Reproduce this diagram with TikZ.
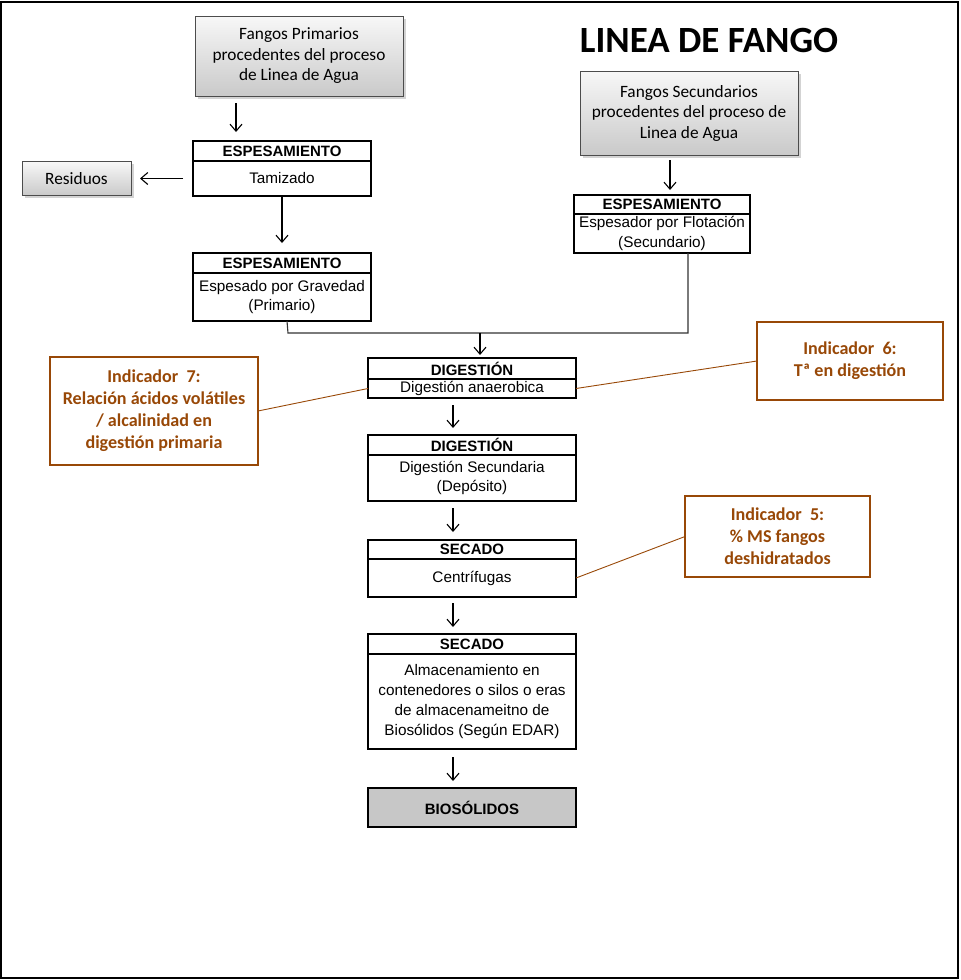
\documentclass[tikz,border=0pt]{standalone}
\usepackage{fontspec}
\setmainfont{Liberation Sans}
\newfontfamily\calfont{Carlito}
\usetikzlibrary{arrows.meta,shadows}
\definecolor{indbrown}{HTML}{984807}
\begin{document}
\begin{tikzpicture}[x=1pt,y=-1pt,
  every node/.style={inner sep=0pt, outer sep=0pt},
  hdr/.style={draw, line width=1.8pt, anchor=north west, align=center,
    font=\fontsize{15}{17}\selectfont\bfseries},
  body/.style={draw, line width=1.8pt, anchor=north west, align=center,
    font=\fontsize{15.3}{19.7}\selectfont},
  src/.style={draw=black!70, line width=0.8pt, anchor=north west, align=center,
    top color=gray!6, bottom color=gray!42,
    drop shadow={shadow xshift=2.5pt, shadow yshift=-2.5pt, opacity=0.35},
    font=\calfont\fontsize{17.3}{20.5}\selectfont},
  ind/.style={draw=indbrown, line width=2.6pt, anchor=north west, align=center,
    text=indbrown, font=\calfont\bfseries\fontsize{18.1}{22}\selectfont},
  flow/.style={line width=1.1pt, -{Straight Barb[length=7pt,width=12pt]}},
  link/.style={line width=0.9pt, draw=indbrown},
]
\useasboundingbox (0,0) rectangle (961,980);
% outer frame
\draw[line width=2pt] (1,1.5) rectangle (957.5,978);

% title
\node[font=\calfont\bfseries\fontsize{37}{42}\selectfont] (title) at (709,40) {LINEA DE FANGO};

% sludge sources
\node[src, minimum width=208pt, minimum height=80pt] (pri) at (195,16)
  {Fangos Primarios\\procedentes del proceso\\de Linea de Agua};
\node[src, minimum width=218pt, minimum height=84pt] (sec) at (580,71)
  {Fangos Secundarios\\procedentes del proceso de\\Linea de Agua};
\node[src, minimum width=109pt, minimum height=34pt] (res) at (22,161.5) {Residuos};

% primary thickening: screening
\node[hdr, minimum width=178pt, minimum height=20pt] (tamH) at (193,141) {ESPESAMIENTO};
\node[body, minimum width=178pt, minimum height=35pt] (tamB) at (193,161) {Tamizado};

% primary thickening: gravity
\node[hdr, minimum width=178pt, minimum height=20pt] (gravH) at (193,253) {ESPESAMIENTO};
\node[body, minimum width=178pt, minimum height=48pt] (gravB) at (193,273)
  {Espesado por Gravedad\\(Primario)};

% secondary thickening: flotation
\node[hdr, minimum width=176pt, minimum height=19pt] (flotH) at (574,195) {ESPESAMIENTO};
\node[body, minimum width=176pt, minimum height=39pt] (flotB) at (574,214)
  {Espesador por Flotación\\(Secundario)};

% digestion
\node[hdr, minimum width=208pt, minimum height=21pt] (digH) at (368,358) {DIGESTIÓN};
\node[body, minimum width=208pt, minimum height=19pt] (digB) at (368,379) {Digestión anaerobica};

\node[hdr, minimum width=208pt, minimum height=20pt] (dsH) at (368,435) {DIGESTIÓN};
\node[body, minimum width=208pt, minimum height=46pt] (dsB) at (368,455)
  {Digestión Secundaria\\(Depósito)};

% drying
\node[hdr, minimum width=208pt, minimum height=19pt] (cenH) at (368,540) {SECADO};
\node[body, minimum width=208pt, minimum height=38pt] (cenB) at (368,559) {Centrífugas};

\node[hdr, minimum width=208pt, minimum height=20pt] (almH) at (368,634) {SECADO};
\node[body, minimum width=208pt, minimum height=95pt] (almB) at (368,654)
  {Almacenamiento en\\contenedores o silos o eras\\de almacenameitno de\\Biosólidos (Según EDAR)};

% final product
\node[hdr, fill=black!22, minimum width=208pt, minimum height=39pt] (bio) at (368,788) {BIOSÓLIDOS};

% indicators
\node[ind, minimum width=208pt, minimum height=108pt] (ind7) at (50,357)
  {Indicador\ \ 7:\\Relación ácidos volátiles\\/ alcalinidad en\\digestión primaria};
\node[ind, minimum width=186pt, minimum height=78pt] (ind6) at (757,322)
  {Indicador\ \ 6:\\Tª en digestión};
\node[ind, minimum width=185pt, minimum height=81pt] (ind5) at (685,496)
  {Indicador\ \ 5:\\\% MS fangos\\deshidratados};

% flow connectors
\draw[flow] ([xshift=-63pt,yshift=-7pt]pri.south) -- ([xshift=-46pt,yshift=9pt]tamH.north);
\draw[flow] ([xshift=-10pt]tamB.west) -- ([xshift=9pt]res.east);
\draw[flow] (tamB.south) -- ([yshift=10pt]gravH.north);
\draw[flow] ([xshift=-19pt,yshift=-5pt]sec.south) -- ([xshift=8pt,yshift=5pt]flotH.north);

\coordinate (jl) at (288,333);
\coordinate (jr) at (688,333);
\coordinate (jm) at (480,333);
\draw[line width=1.1pt, black!80] ([xshift=5pt]gravB.south) -- (jl) -- (jr) -- ([xshift=26pt]flotB.south);
\draw[flow] (jm) -- ([xshift=8pt,yshift=3pt]digH.north);

\draw[flow] ([xshift=-19pt,yshift=-7pt]digB.south) -- ([xshift=-19pt,yshift=7pt]dsH.north);
\draw[flow] ([xshift=-19pt,yshift=-7pt]dsB.south) -- ([xshift=-19pt,yshift=8pt]cenH.north);
\draw[flow] ([xshift=-19pt,yshift=-6pt]cenB.south) -- ([xshift=-19pt,yshift=7pt]almH.north);
\draw[flow] ([xshift=-19pt,yshift=-8pt]almB.south) -- ([xshift=-19pt,yshift=7pt]bio.north);

% indicator links
\draw[link] (ind7.east) -- (digB.west);
\draw[link] (digB.east) -- (ind6.west);
\draw[link] (cenB.east) -- (ind5.west);
\end{tikzpicture}
\end{document}
